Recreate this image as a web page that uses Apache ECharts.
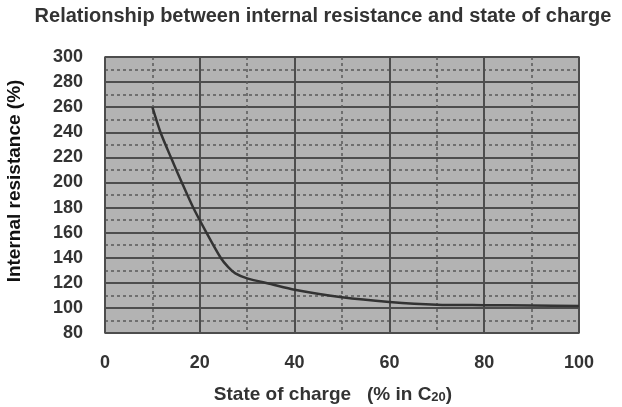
<!DOCTYPE html>
<html>
<head>
<meta charset="utf-8">
<script src="https://cdn.jsdelivr.net/npm/echarts@6/dist/echarts.min.js"></script>
<style>
html,body{margin:0;padding:0;background:#fff;}
#c{width:622px;height:407px;}
</style>
</head>
<body>
<div id="c"></div>
<script>
var stateOfCharge = [10, 11.7, 13.9, 16.2, 18.6, 21.4, 24.4, 26, 27.5, 30, 35, 40, 50, 60, 70, 80, 90, 100];
var internalResistance = [260, 240, 220, 200, 180, 160, 140, 132.5, 127.5, 123.5, 119, 114.5, 108.5, 104.8, 102.6, 102.2, 101.9, 101.6];
var xTicks = [0, 20, 40, 60, 80, 100];
var yTicks = [80, 100, 120, 140, 160, 180, 200, 220, 240, 260, 280, 300];

var chart = echarts.init(document.getElementById('c'), null, {renderer: 'canvas'});
var pts = stateOfCharge.map(function (x, i) { return [x, internalResistance[i]]; });
var labelFont = {fontFamily: 'Liberation Sans, Arial, sans-serif', fontWeight: 'bold', fontSize: 18, color: '#333'};

chart.setOption({
  animation: false,
  backgroundColor: '#fff',
  grid: {left: 105, right: 43, top: 57, bottom: 74, show: true, backgroundColor: '#b3b3b3', borderColor: '#555', borderWidth: 1.5},
  xAxis: {
    type: 'value', min: xTicks[0], max: xTicks[xTicks.length - 1], interval: 20,
    axisLine: {show: false}, axisTick: {show: false},
    axisLabel: Object.assign({margin: 21}, labelFont),
    splitLine: {show: true, lineStyle: {color: '#4d4d4d', width: 2}},
    minorTick: {show: false, splitNumber: 2},
    minorSplitLine: {show: true, lineStyle: {color: '#5a5a5a', width: 1.5, type: [3, 3]}}
  },
  yAxis: {
    type: 'value', min: yTicks[0], max: yTicks[yTicks.length - 1], interval: 20,
    axisLine: {show: false}, axisTick: {show: false},
    axisLabel: Object.assign({margin: 22}, labelFont),
    splitLine: {show: true, lineStyle: {color: '#4d4d4d', width: 2}},
    minorTick: {show: false, splitNumber: 2},
    minorSplitLine: {show: true, lineStyle: {color: '#5a5a5a', width: 1.5, type: [3, 3]}}
  },
  series: [{
    type: 'line', data: pts, smooth: 0.25, showSymbol: false,
    lineStyle: {color: '#333', width: 2.5}
  }],
  graphic: [
    {type: 'text', x: 323, y: 16, style: {text: 'Relationship between internal resistance and state of charge', font: 'bold 20px "Liberation Sans", Arial, sans-serif', fill: '#333', align: 'center', verticalAlign: 'middle'}},
    {type: 'text', x: 15, y: 181, rotation: Math.PI / 2, style: {text: 'Internal resistance (%)', font: 'bold 19px "Liberation Sans", Arial, sans-serif', fill: '#111', align: 'center', verticalAlign: 'middle'}},
    {type: 'text', x: 333, y: 395, style: {
      text: '{m|State of charge   (% in C}{s|20}{m|)}',
      align: 'center', verticalAlign: 'middle',
      rich: {
        m: {font: 'bold 19px "Liberation Sans", Arial, sans-serif', fill: '#333'},
        s: {font: 'bold 13px "Liberation Sans", Arial, sans-serif', fill: '#333', padding: [5, 0, 0, 0]}
      }
    }}
  ]
});
</script>
</body>
</html>
